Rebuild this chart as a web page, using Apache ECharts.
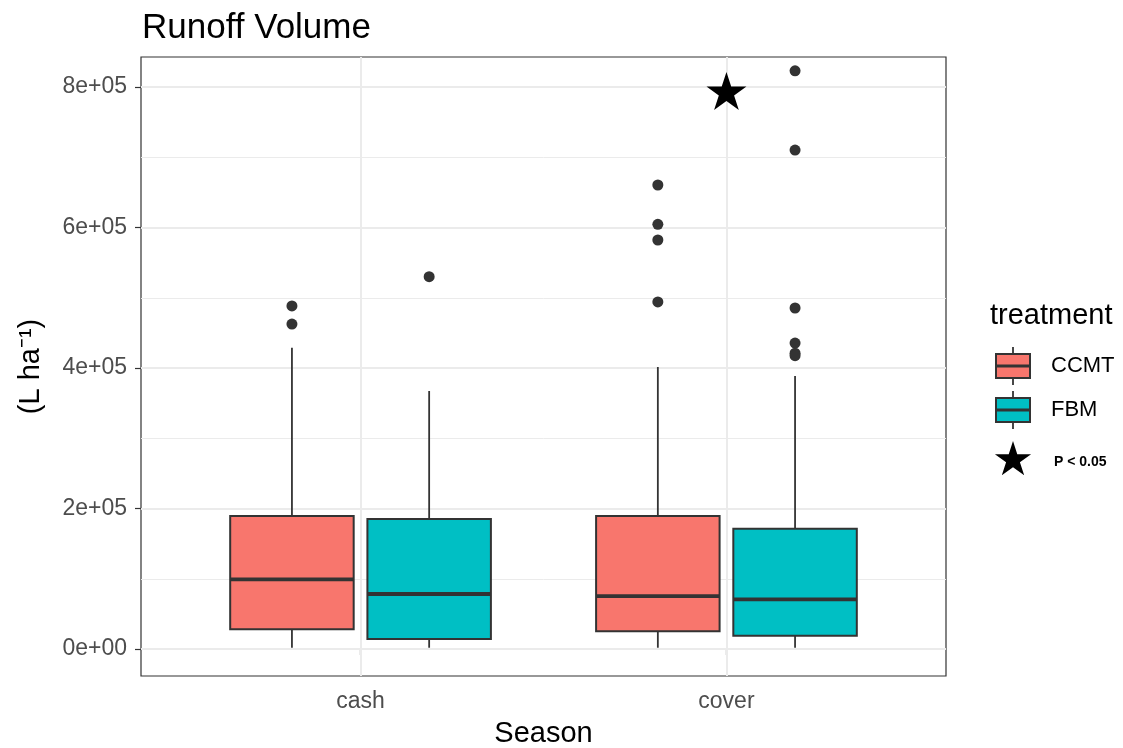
<!DOCTYPE html>
<html>
<head>
<meta charset="utf-8">
<title>Runoff Volume</title>
<script src="https://cdn.jsdelivr.net/npm/echarts@6/dist/echarts.min.js"></script>
<style>
  html, body { margin: 0; padding: 0; background: #ffffff; }
  #chart { width: 1123px; height: 748px; }
</style>
</head>
<body>
<div id="chart"></div>
<script>
// ---- data ----
const seasons = ['cash', 'cover'];
const treatments = ['CCMT', 'FBM'];
const treatmentColors = ['#F8766D', '#00BFC4'];

// [lower whisker, Q1, median, Q3, upper whisker] for cash, cover
const ccmtStats = [
  [1800, 28000, 99200, 189300, 428900],
  [1800, 25200, 75400, 189300, 401400]
];
const fbmStats = [
  [1800, 14200, 78300, 185000, 367300],
  [1800, 19000, 70700, 171300, 388600]
];

// outlying observations for cash, cover
const ccmtOutliers = [
  [488300, 462600],
  [660500, 604500, 582200, 494000]
];
const fbmOutliers = [
  [530000],
  [823000, 710300, 485400, 435500, 421000, 417500]
];

// significance marker
const sigSeasons = ['cover'];
const sigValues = [794300];
const sigLabel = 'P < 0.05';

// axis ticks
const yTickValues = [0, 200000, 400000, 600000, 800000];
const yTickLabels = ['0e+00', '2e+05', '4e+05', '6e+05', '8e+05'];
const yMinorValues = [100000, 300000, 500000, 700000];

// ---- layout constants ----
const FONT = '"Liberation Sans", Arial, sans-serif';
const DODGE = 0.1875;       // half of dodge width 0.75 / 2
const HALF_BOX = 0.16875;   // half of box width
const INK = '#333333';
const STAR_PATH = 'path://M50 0 L61.23 34.55 L97.55 34.55 L68.16 55.9 L79.39 90.45 L50 69.1 L20.61 90.45 L31.84 55.9 L2.45 34.55 L38.77 34.55 Z';

const statsByTreatment = [ccmtStats, fbmStats];
const outliersByTreatment = [ccmtOutliers, fbmOutliers];

function xPos(seasonIdx, treatIdx) {
  return seasonIdx + 1 + (treatIdx === 0 ? -DODGE : DODGE);
}

function renderBox(params, api) {
  const x = api.value(0);
  const lo = api.value(1), q1 = api.value(2), med = api.value(3), q3 = api.value(4), hi = api.value(5);
  const color = api.visual('color');
  const tl = api.coord([x - HALF_BOX, q3]);
  const br = api.coord([x + HALF_BOX, q1]);
  const top = api.coord([x, hi]);
  const bot = api.coord([x, lo]);
  const m1 = api.coord([x - HALF_BOX, med]);
  const m2 = api.coord([x + HALF_BOX, med]);
  return {
    type: 'group',
    children: [
      { type: 'line', shape: { x1: top[0], y1: top[1], x2: top[0], y2: tl[1] }, style: { stroke: INK, lineWidth: 1.8 } },
      { type: 'line', shape: { x1: bot[0], y1: bot[1], x2: bot[0], y2: br[1] }, style: { stroke: INK, lineWidth: 1.8 } },
      { type: 'rect', shape: { x: tl[0], y: tl[1], width: br[0] - tl[0], height: br[1] - tl[1] },
        style: { fill: color, stroke: INK, lineWidth: 2 } },
      { type: 'line', shape: { x1: m1[0], y1: m1[1], x2: m2[0], y2: m2[1] }, style: { stroke: INK, lineWidth: 3.8 } }
    ]
  };
}

const series = [];

// background grid lines
const gridLines = [];
yMinorValues.forEach(v => gridLines.push({ yAxis: v, lineStyle: { color: '#ebebeb', width: 1, type: 'solid' } }));
yTickValues.forEach(v => gridLines.push({ yAxis: v, lineStyle: { color: '#ebebeb', width: 2, type: 'solid' } }));
seasons.forEach((s, i) => gridLines.push({ xAxis: i + 1, lineStyle: { color: '#ebebeb', width: 2, type: 'solid' } }));
series.push({
  type: 'line',
  data: [],
  z: 1,
  silent: true,
  markLine: { z: 1, silent: true, symbol: ['none', 'none'], label: { show: false }, data: gridLines, animation: false }
});

treatments.forEach((t, ti) => {
  series.push({
    name: t,
    type: 'custom',
    z: 3,
    itemStyle: { color: treatmentColors[ti] },
    renderItem: renderBox,
    data: statsByTreatment[ti].map((s, si) => [xPos(si, ti)].concat(s))
  });
  const pts = [];
  outliersByTreatment[ti].forEach((vals, si) => vals.forEach(v => pts.push([xPos(si, ti), v])));
  series.push({
    name: t + ' outliers',
    type: 'scatter',
    z: 4,
    symbol: 'circle',
    symbolSize: 11,
    itemStyle: { color: INK, opacity: 1 },
    data: pts
  });
});

series.push({
  name: sigLabel,
  type: 'scatter',
  z: 5,
  symbol: STAR_PATH,
  symbolSize: [40, 38],
  itemStyle: { color: '#000000', opacity: 1 },
  data: sigSeasons.map((s, i) => [seasons.indexOf(s) + 1, sigValues[i]])
});

// legend drawn as graphic elements
function starPoints(cx, cy, r) {
  const pts = [];
  for (let k = 0; k < 10; k++) {
    const rad = (k % 2 === 0) ? r : r * 0.382;
    const ang = -Math.PI / 2 + k * Math.PI / 5;
    pts.push([cx + rad * Math.cos(ang), cy + rad * Math.sin(ang)]);
  }
  return pts;
}

const legendKeyX = 996, legendKeyW = 34;
const legendRows = [366, 410];
const legendGraphics = [
  { type: 'text', x: 990, y: 316, style: { text: 'treatment', font: '29px ' + FONT, fill: '#000', verticalAlign: 'middle' } }
];
treatments.forEach((t, ti) => {
  const cy = legendRows[ti];
  const cx = legendKeyX + legendKeyW / 2;
  legendGraphics.push(
    { type: 'line', shape: { x1: cx, y1: cy - 19, x2: cx, y2: cy + 19 }, style: { stroke: INK, lineWidth: 1.8 } },
    { type: 'rect', shape: { x: legendKeyX, y: cy - 12, width: legendKeyW, height: 24 },
      style: { fill: treatmentColors[ti], stroke: INK, lineWidth: 2 } },
    { type: 'line', shape: { x1: legendKeyX, y1: cy, x2: legendKeyX + legendKeyW, y2: cy }, style: { stroke: INK, lineWidth: 3 } },
    { type: 'text', x: 1051, y: cy, style: { text: t, font: '22px ' + FONT, fill: '#000', verticalAlign: 'middle' } }
  );
});
legendGraphics.push(
  { type: 'polygon', shape: { points: starPoints(1013, 460, 19) }, style: { fill: '#000' } },
  { type: 'text', x: 1054, y: 462, style: { text: sigLabel, font: 'bold 14px ' + FONT, fill: '#000', verticalAlign: 'middle' } }
);

const option = {
  animation: false,
  backgroundColor: '#ffffff',
  title: {
    text: 'Runoff Volume',
    left: 137,
    top: 6,
    textStyle: { fontFamily: FONT, fontSize: 35, fontWeight: 'normal', color: '#000' }
  },
  grid: {
    left: 141, right: 177, top: 57, bottom: 72,
    outerBoundsMode: 'none',
    containLabel: false,
    show: true, borderColor: INK, borderWidth: 1.2, backgroundColor: '#ffffff'
  },
  xAxis: {
    type: 'value',
    min: 0.4, max: 2.6,
    name: 'Season',
    nameLocation: 'middle',
    nameGap: 43,
    nameTextStyle: { fontFamily: FONT, fontSize: 29, color: '#000' },
    axisLine: { show: false },
    axisTick: { show: true, length: 6, lineStyle: { color: INK, width: 1.2 }, customValues: [1, 2] },
    axisLabel: {
      show: true, margin: 14, fontFamily: FONT, fontSize: 23, color: '#4d4d4d',
      customValues: [1, 2],
      formatter: v => seasons[Math.round(v) - 1]
    },
    splitLine: { show: false }
  },
  yAxis: {
    type: 'value',
    min: -38435, max: 842712,
    name: '(L ha\u207B\u00B9)',
    nameLocation: 'middle',
    nameRotate: 90,
    nameGap: 96,
    nameTextStyle: { fontFamily: FONT, fontSize: 29, color: '#000' },
    axisLine: { show: false },
    axisTick: { show: true, length: 6, lineStyle: { color: INK, width: 1.2 }, customValues: yTickValues },
    axisLabel: {
      show: true, margin: 14, fontFamily: FONT, fontSize: 23, color: '#4d4d4d',
      customValues: yTickValues,
      formatter: v => yTickLabels[yTickValues.indexOf(v)]
    },
    splitLine: { show: false }
  },
  graphic: legendGraphics,
  series: series
};

const chart = echarts.init(document.getElementById('chart'), null, { renderer: 'canvas' });
chart.setOption(option);
</script>
</body>
</html>
